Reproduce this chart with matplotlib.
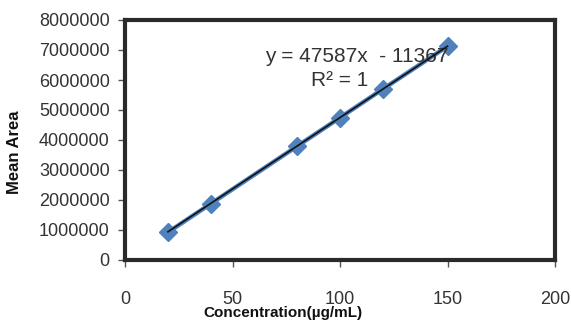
import matplotlib
matplotlib.use("Agg")
import matplotlib.pyplot as plt
import numpy as np

# Calibration data: concentration vs mean peak area
concentration = [20, 40, 80, 100, 120, 150]
mean_area = [925000, 1880000, 3790000, 4745000, 5700000, 7125000]

# Linear regression reported for the calibration curve
slope = 47587
intercept = -11367
r_squared = 1

x_ticks = [0, 50, 100, 150, 200]
y_ticks = [0, 1000000, 2000000, 3000000, 4000000, 5000000, 6000000, 7000000, 8000000]

font = "Liberation Sans"

fig = plt.figure(figsize=(5.71, 3.2), dpi=100)
ax = fig.add_axes([125 / 571, 60 / 320, 430 / 571, 240 / 320])

blue = "#4F81BD"
ax.plot(concentration, mean_area, color=blue, lw=3.2, marker="D", ms=9,
        mfc=blue, mec=blue, zorder=3)

fit_x = np.array([concentration[0], concentration[-1]])
ax.plot(fit_x, slope * fit_x + intercept, color="#111111", lw=1.2, zorder=4)

ax.set_xlim(0, 200)
ax.set_ylim(0, 8000000)
ax.set_xticks(x_ticks)
ax.set_yticks(y_ticks)
ax.set_xticklabels([str(v) for v in x_ticks], family=font, fontsize=13, color="#333333")
ax.set_yticklabels([str(v) for v in y_ticks], family=font, fontsize=13, color="#333333")
ax.tick_params(axis="x", direction="out", length=5, width=1, color="#555555", pad=17)
ax.tick_params(axis="y", direction="out", length=5, width=1, color="#555555", pad=6)

for s in ax.spines.values():
    s.set_linewidth(3)
    s.set_color("#2a2a2a")

ax.text(108, 6.77e6, "y = %dx  - %d" % (slope, -intercept), ha="center", va="center",
        family=font, fontsize=15, color="#333333")
ax.text(100, 5.97e6, "R² = %d" % r_squared, ha="center", va="center",
        family=font, fontsize=15, color="#333333")

fig.text(283 / 571, 1 - 313 / 320, "Concentration(µg/mL)", ha="center", va="center",
         family=font, fontweight="bold", fontsize=11, color="#111111")
fig.text(15 / 571, 1 - 152 / 320, "Mean Area", ha="center", va="center", rotation=90,
         family=font, fontweight="bold", fontsize=12, color="#111111")

fig.savefig("out.png", dpi=100)
